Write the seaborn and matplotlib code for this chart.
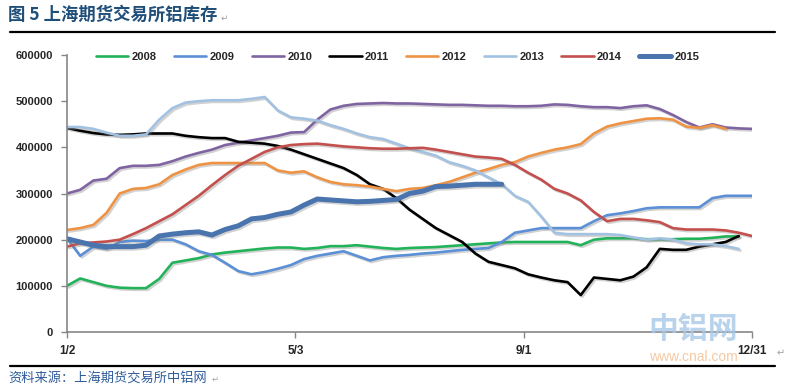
import numpy as np
import pandas as pd
import matplotlib
matplotlib.use("Agg")
import matplotlib.pyplot as plt
import matplotlib.patheffects as pe
import seaborn as sns

nan = np.nan
weeks = list(range(53))
tick_pos = [0, 52 / 3, 104 / 3, 52]
tick_labels = ["1/2", "5/3", "9/1", "12/31"]
years = ["2008", "2009", "2010", "2011", "2012", "2013", "2014", "2015"]

s2008 = [100, 116, 108, 100, 96, 95, 95, 115, 150, 155, 160, 168, 172, 175, 178, 181, 183, 183, 180, 182,
         186, 186, 188, 185, 182, 180, 182, 183, 184, 186, 188, 190, 192, 194, 195, 195, 195, 195, 195, 188,
         200, 203, 203, 203, 201, 201, 201, 202, 202, 204, 207, 207, nan]
s2009 = [203, 165, 185, 180, 195, 198, 197, 200, 200, 190, 175, 167, 150, 132, 125, 130, 137, 145, 158, 165,
         170, 175, 165, 155, 162, 165, 167, 170, 172, 175, 178, 180, 182, 195, 215, 220, 225, 225, 225, 225,
         240, 253, 257, 262, 268, 270, 270, 270, 270, 290, 295, 295, 295]
s2010 = [300, 308, 328, 332, 355, 360, 360, 362, 370, 380, 388, 395, 405, 410, 415, 420, 425, 432, 433, 460,
         482, 490, 494, 495, 496, 495, 495, 494, 493, 492, 492, 491, 490, 490, 489, 489, 490, 493, 492, 489,
         487, 487, 485, 489, 491, 483, 470, 455, 443, 450, 443, 441, 440]
s2011 = [442, 436, 431, 428, 427, 428, 430, 430, 430, 425, 422, 420, 420, 412, 410, 408, 403, 395, 385, 375,
         365, 355, 340, 320, 310, 290, 265, 245, 225, 210, 195, 170, 152, 145, 138, 125, 118, 112, 108, 80,
         118, 115, 112, 120, 140, 180, 178, 178, 185, 190, 195, 208, nan]
s2012 = [221, 225, 232, 258, 300, 310, 312, 320, 340, 352, 362, 366, 366, 366, 366, 366, 350, 345, 348, 335,
         325, 320, 318, 315, 310, 305, 310, 312, 318, 325, 335, 345, 353, 362, 368, 380, 388, 395, 400, 407,
         430, 445, 452, 457, 462, 463, 460, 445, 442, 448, 440, nan, nan]
s2013 = [444, 444, 440, 432, 425, 425, 428, 460, 485, 497, 500, 502, 502, 502, 505, 509, 480, 465, 462, 458,
         448, 440, 430, 422, 418, 408, 398, 390, 382, 368, 360, 350, 335, 320, 295, 282, 250, 215, 212, 212,
         212, 212, 210, 205, 200, 203, 200, 192, 190, 190, 186, 180, nan]
s2014 = [185, 192, 194, 196, 200, 212, 225, 240, 255, 275, 295, 318, 340, 360, 375, 390, 400, 405, 407, 408,
         405, 402, 400, 398, 397, 397, 398, 399, 395, 390, 385, 380, 378, 375, 362, 345, 330, 310, 300, 285,
         260, 240, 245, 245, 242, 238, 225, 222, 222, 222, 220, 215, 208]
s2015 = [202, 195, 188, 185, 185, 185, 188, 208, 212, 215, 217, 210, 222, 230, 245, 248, 255, 260, 275, 288,
         286, 284, 282, 283, 285, 287, 300, 305, 315, 316, 318, 320, 320, 320] + [nan] * 19

series = [s2008, s2009, s2010, s2011, s2012, s2013, s2014, s2015]
colors = ["#22B35A", "#5B8FD6", "#8064A2", "#000000", "#EE9344", "#A3C2E2", "#C3504D", "#4A74AD"]
widths = [1.9, 1.9, 1.9, 1.9, 1.9, 1.9, 1.9, 3.6]

sns.set_theme(style="white")
plt.rcParams["font.family"] = ["Liberation Sans", "Noto Sans CJK SC", "DejaVu Sans"]

fig = plt.figure(figsize=(7.86, 3.87), dpi=100)
ax = fig.add_axes([67 / 786, 1 - 332 / 387, (752 - 67) / 786, (332 - 55) / 387])

for yr, vals, c, lw in zip(years, series, colors, widths):
    df = pd.DataFrame({"week": weeks, "value": np.array(vals, dtype=float) * 1000})
    sns.lineplot(data=df, x="week", y="value", ax=ax, color=c, linewidth=lw, label=yr,
                 path_effects=[pe.SimpleLineShadow(offset=(1.2, -1.2), shadow_color="gray", alpha=0.35),
                               pe.Normal()])

ax.set_xlim(0, 52)
ax.set_ylim(0, 600000)
ax.set_yticks(np.arange(0, 600001, 100000))
ax.set_yticklabels([str(v) for v in range(0, 600001, 100000)], fontsize=8, fontweight="bold")
ax.set_xticks(tick_pos)
ax.set_xticklabels(tick_labels, fontsize=8.5, fontweight="bold")
ax.set_xlabel("")
ax.set_ylabel("")
for s in ["top", "right"]:
    ax.spines[s].set_visible(False)
for s in ["left", "bottom"]:
    ax.spines[s].set_color("#868686")
    ax.spines[s].set_linewidth(1.2)
ax.tick_params(axis="y", direction="out", length=4, width=1, color="#868686", pad=6, left=True)
ax.tick_params(axis="x", direction="out", length=4, width=1, color="#868686", pad=5, bottom=True)
ax.grid(False)

leg = ax.legend(loc="upper center", bbox_to_anchor=(0.483, 1.035), ncol=8, frameon=False,
                handlelength=2.9, columnspacing=1.55, handletextpad=0.3, borderaxespad=0.2,
                prop={"size": 8, "weight": "bold"})
for line in leg.get_lines():
    line.set_path_effects([])

# title, rules, source
fig.text(8 / 786, 1 - 15 / 387, "图 5 上海期货交易所铝库存", fontsize=12.5, fontweight="bold",
         color="#1F4E79", va="center", ha="left", family=["Noto Sans CJK SC", "DejaVu Sans"])
fig.text(221 / 786, 1 - 18 / 387, "↵", fontsize=6.5, color="#A0A0A0", va="center", ha="left",
         family=["DejaVu Sans"])
fig.add_artist(plt.Line2D([10 / 786, 775 / 786], [1 - 32 / 387, 1 - 32 / 387], color="black", lw=1.6))
fig.add_artist(plt.Line2D([10 / 786, 775 / 786], [1 - 366 / 387, 1 - 366 / 387], color="black", lw=1.6))
fig.text(8 / 786, 1 - 378 / 387, "资料来源：上海期货交易所中铝网", fontsize=9.5, style="italic",
         color="#2E5C9A", va="center", ha="left", family=["Noto Sans CJK SC", "DejaVu Sans"])
fig.text(212 / 786, 1 - 379 / 387, "↵", fontsize=6, color="#A0A0A0", va="center", ha="left",
         family=["DejaVu Sans"])
fig.text(777 / 786, 1 - 353 / 387, "↵", fontsize=7, color="#A0A0A0", va="center", ha="left",
         family=["DejaVu Sans"])

# watermark
fig.text(693 / 786, 1 - 329 / 387, "中铝网", fontsize=21.5, fontweight="bold", color="#A8C8E8",
         alpha=0.8, ha="center", va="center", family=["Noto Sans CJK SC", "DejaVu Sans"])
fig.text(693 / 786, 1 - 357 / 387, "www.cnal.com", fontsize=10, color="#F6C9A2",
         ha="center", va="center")

fig.savefig("out.png", dpi=100)
